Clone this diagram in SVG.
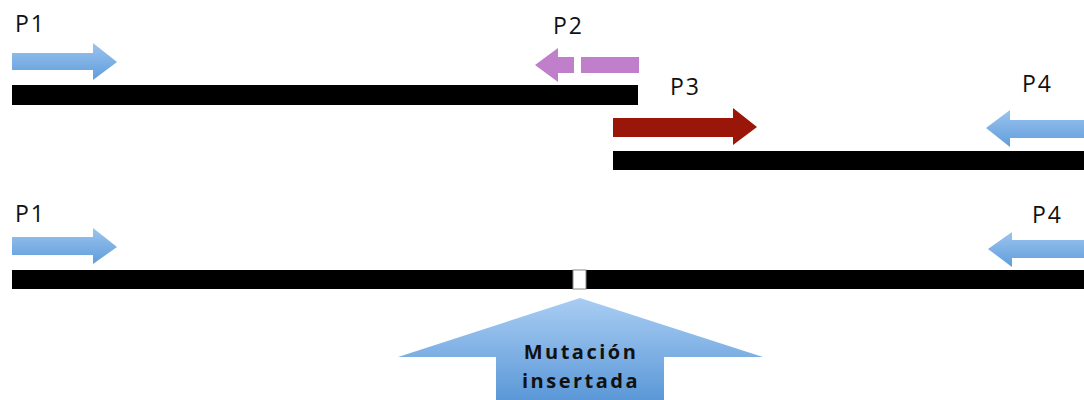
<svg xmlns="http://www.w3.org/2000/svg" width="1084" height="400" viewBox="0 0 1084 400">
<defs>
<linearGradient id="blueH" x1="0" y1="0" x2="0" y2="1">
<stop offset="0" stop-color="#9cc4ee"/>
<stop offset="1" stop-color="#5f9ddc"/>
</linearGradient>
<linearGradient id="blueBig" x1="0" y1="0" x2="0" y2="1">
<stop offset="0" stop-color="#a9cdf3"/>
<stop offset="1" stop-color="#5b98d8"/>
</linearGradient>
</defs>
<style>
.lbl{font-family:"Open Sans","Liberation Sans",sans-serif;font-size:23px;letter-spacing:2px;fill:#111}
.bar{fill:#000}
.blue{fill:url(#blueH)}
.mut{font-family:"Open Sans","Liberation Sans",sans-serif;font-size:20px;font-weight:bold;letter-spacing:2.5px;fill:#111;text-anchor:middle}
</style>
<g id="bars">
<rect id="bar1" class="bar" x="12" y="85" width="626" height="20"/>
<rect id="bar2" class="bar" x="613" y="151" width="471" height="19"/>
<rect id="bar3" class="bar" x="12" y="270" width="1072" height="19"/>
<rect id="mutbox" x="573" y="270" width="13" height="19" fill="#fff" stroke="#888" stroke-width="1"/>
</g>
<g id="p1-top">
<text class="lbl" x="15" y="32">P1</text>
<polygon class="blue" points="12,53 93,53 93,43 117,62 93,80 93,70 12,70"/>
</g>
<g id="p2">
<text class="lbl" x="553" y="34">P2</text>
<polygon fill="#bf7fca" points="639,57 558,57 558,48 535,65 558,82 558,73 639,73"/>
<rect x="574" y="57" width="7" height="16" fill="#fff"/>
</g>
<g id="p3">
<text class="lbl" x="670" y="95">P3</text>
<polygon fill="#9a1608" points="613,118 733,118 733,108 757,127 733,145 733,137 613,137"/>
</g>
<g id="p4-top">
<text class="lbl" x="1022" y="92">P4</text>
<polygon class="blue" points="1084,120 1010,120 1010,110 986,128 1010,147 1010,138 1084,138"/>
</g>
<g id="p1-bottom">
<text class="lbl" x="15" y="222">P1</text>
<polygon class="blue" points="12,237 93,237 93,228 117,247 93,264 93,255 12,255"/>
</g>
<g id="p4-bottom">
<text class="lbl" x="1032" y="223">P4</text>
<polygon class="blue" points="1084,240 1012,240 1012,232 988,249 1012,267 1012,258 1084,258"/>
</g>
<g id="mutacion">
<polygon fill="url(#blueBig)" points="580,298 763,357 664,357 664,400 496,400 496,357 398,357"/>
<text class="mut" x="581" y="359">Mutación</text>
<text class="mut" x="581" y="388">insertada</text>
</g>
</svg>
